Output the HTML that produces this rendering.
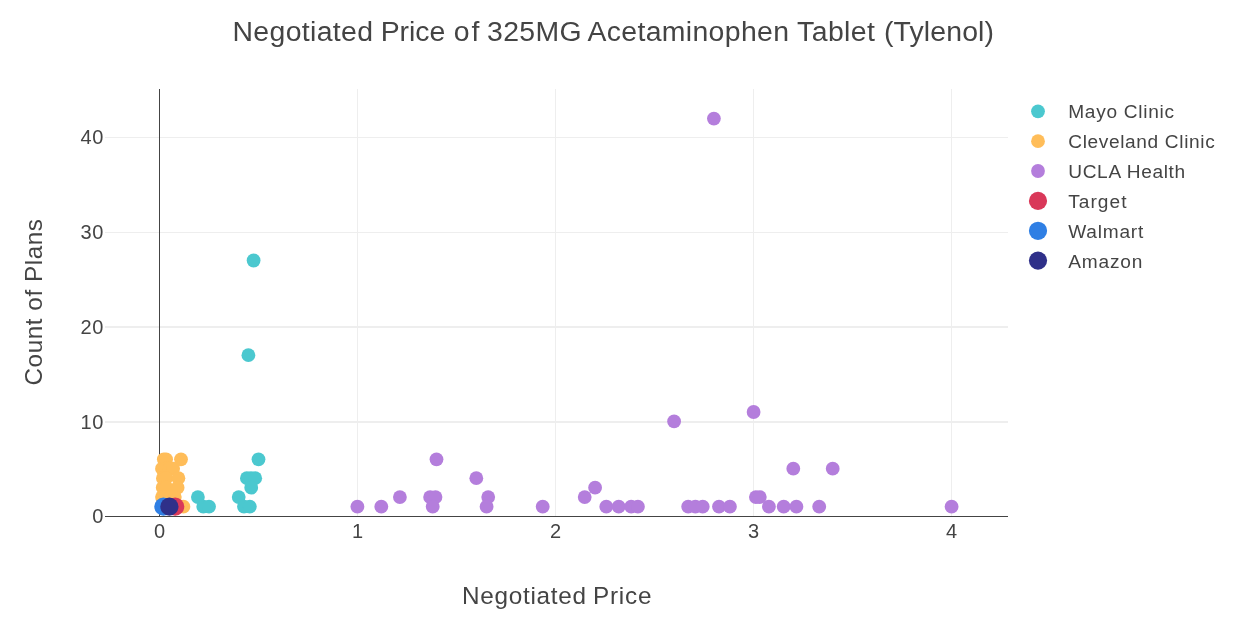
<!DOCTYPE html>
<html><head><meta charset="utf-8"><title>Chart</title>
<style>html,body{margin:0;padding:0;background:#fff;}body{width:1233px;height:619px;overflow:hidden;font-family:"Liberation Sans",sans-serif;}</style>
</head><body>
<svg width="1233" height="619" viewBox="0 0 1233 619" style="display:block;will-change:transform">
<rect width="1233" height="619" fill="#fff"/>
<rect x="357.0" y="89" width="1" height="427" fill="#eeeeee"/>
<rect x="555.0" y="89" width="1" height="427" fill="#eeeeee"/>
<rect x="753.0" y="89" width="1" height="427" fill="#eeeeee"/>
<rect x="951.0" y="89" width="1" height="427" fill="#eeeeee"/>
<rect x="105" y="137" width="903" height="1" fill="#eeeeee"/>
<rect x="105" y="232" width="903" height="1" fill="#eeeeee"/>
<rect x="105" y="326" width="903" height="2" fill="#eeeeee"/>
<rect x="105" y="421" width="903" height="2" fill="#eeeeee"/>
<rect x="159" y="89" width="1" height="428" fill="#444"/>
<rect x="105" y="516" width="903" height="1" fill="#444"/>
<circle cx="258.5" cy="459.3" r="6.9" fill="#4BC8CF"/>
<circle cx="246.9" cy="478.2" r="6.9" fill="#4BC8CF"/>
<circle cx="251.0" cy="478.2" r="6.9" fill="#4BC8CF"/>
<circle cx="255.2" cy="478.2" r="6.9" fill="#4BC8CF"/>
<circle cx="251.2" cy="487.7" r="6.9" fill="#4BC8CF"/>
<circle cx="238.7" cy="497.1" r="6.9" fill="#4BC8CF"/>
<circle cx="244.0" cy="506.6" r="6.9" fill="#4BC8CF"/>
<circle cx="249.8" cy="506.6" r="6.9" fill="#4BC8CF"/>
<circle cx="197.9" cy="497.1" r="6.9" fill="#4BC8CF"/>
<circle cx="203.3" cy="506.6" r="6.9" fill="#4BC8CF"/>
<circle cx="209.0" cy="506.6" r="6.9" fill="#4BC8CF"/>
<circle cx="248.4" cy="355.2" r="6.9" fill="#4BC8CF"/>
<circle cx="253.6" cy="260.5" r="6.9" fill="#4BC8CF"/>
<circle cx="163.8" cy="459.3" r="6.9" fill="#FFBD59"/>
<circle cx="166.1" cy="459.3" r="6.9" fill="#FFBD59"/>
<circle cx="181.0" cy="459.3" r="6.9" fill="#FFBD59"/>
<circle cx="162.0" cy="468.7" r="6.9" fill="#FFBD59"/>
<circle cx="165.5" cy="468.7" r="6.9" fill="#FFBD59"/>
<circle cx="169.5" cy="468.7" r="6.9" fill="#FFBD59"/>
<circle cx="173.1" cy="468.7" r="6.9" fill="#FFBD59"/>
<circle cx="162.9" cy="478.2" r="6.9" fill="#FFBD59"/>
<circle cx="166.0" cy="478.2" r="6.9" fill="#FFBD59"/>
<circle cx="178.4" cy="478.2" r="6.9" fill="#FFBD59"/>
<circle cx="162.7" cy="487.7" r="6.9" fill="#FFBD59"/>
<circle cx="166.5" cy="487.7" r="6.9" fill="#FFBD59"/>
<circle cx="177.6" cy="487.7" r="6.9" fill="#FFBD59"/>
<circle cx="162.0" cy="497.1" r="6.9" fill="#FFBD59"/>
<circle cx="166.0" cy="497.1" r="6.9" fill="#FFBD59"/>
<circle cx="170.5" cy="497.1" r="6.9" fill="#FFBD59"/>
<circle cx="174.8" cy="497.1" r="6.9" fill="#FFBD59"/>
<circle cx="162.0" cy="506.6" r="6.9" fill="#FFBD59"/>
<circle cx="170.0" cy="506.6" r="6.9" fill="#FFBD59"/>
<circle cx="183.4" cy="506.6" r="6.9" fill="#FFBD59"/>
<circle cx="357.4" cy="506.6" r="6.9" fill="#B47EDC"/>
<circle cx="381.3" cy="506.6" r="6.9" fill="#B47EDC"/>
<circle cx="399.9" cy="497.1" r="6.9" fill="#B47EDC"/>
<circle cx="436.5" cy="459.3" r="6.9" fill="#B47EDC"/>
<circle cx="430.1" cy="497.1" r="6.9" fill="#B47EDC"/>
<circle cx="435.5" cy="497.1" r="6.9" fill="#B47EDC"/>
<circle cx="432.7" cy="506.6" r="6.9" fill="#B47EDC"/>
<circle cx="476.3" cy="478.2" r="6.9" fill="#B47EDC"/>
<circle cx="488.2" cy="497.1" r="6.9" fill="#B47EDC"/>
<circle cx="486.6" cy="506.6" r="6.9" fill="#B47EDC"/>
<circle cx="542.7" cy="506.6" r="6.9" fill="#B47EDC"/>
<circle cx="584.7" cy="497.1" r="6.9" fill="#B47EDC"/>
<circle cx="595.1" cy="487.7" r="6.9" fill="#B47EDC"/>
<circle cx="606.3" cy="506.6" r="6.9" fill="#B47EDC"/>
<circle cx="618.7" cy="506.6" r="6.9" fill="#B47EDC"/>
<circle cx="631.2" cy="506.6" r="6.9" fill="#B47EDC"/>
<circle cx="637.9" cy="506.6" r="6.9" fill="#B47EDC"/>
<circle cx="674.1" cy="421.4" r="6.9" fill="#B47EDC"/>
<circle cx="753.6" cy="412.0" r="6.9" fill="#B47EDC"/>
<circle cx="793.3" cy="468.7" r="6.9" fill="#B47EDC"/>
<circle cx="832.7" cy="468.7" r="6.9" fill="#B47EDC"/>
<circle cx="688.2" cy="506.6" r="6.9" fill="#B47EDC"/>
<circle cx="695.4" cy="506.6" r="6.9" fill="#B47EDC"/>
<circle cx="702.7" cy="506.6" r="6.9" fill="#B47EDC"/>
<circle cx="719.0" cy="506.6" r="6.9" fill="#B47EDC"/>
<circle cx="729.9" cy="506.6" r="6.9" fill="#B47EDC"/>
<circle cx="768.9" cy="506.6" r="6.9" fill="#B47EDC"/>
<circle cx="783.7" cy="506.6" r="6.9" fill="#B47EDC"/>
<circle cx="796.4" cy="506.6" r="6.9" fill="#B47EDC"/>
<circle cx="819.2" cy="506.6" r="6.9" fill="#B47EDC"/>
<circle cx="951.6" cy="506.6" r="6.9" fill="#B47EDC"/>
<circle cx="755.9" cy="497.1" r="6.9" fill="#B47EDC"/>
<circle cx="759.8" cy="497.1" r="6.9" fill="#B47EDC"/>
<circle cx="713.9" cy="118.6" r="6.9" fill="#B47EDC"/>
<circle cx="175.2" cy="506.6" r="9.1" fill="#D93859"/>
<circle cx="163.4" cy="506.6" r="9.1" fill="#2F7FE4"/>
<circle cx="169.4" cy="506.6" r="9.1" fill="#2F3089"/>
<g font-family="'Liberation Sans', sans-serif" fill="#444444">
<text x="232.5" y="41.2" font-size="28.4" text-anchor="start" textLength="140.5" lengthAdjust="spacing">Negotiated</text>
<text x="380.7" y="41.2" font-size="28.4" text-anchor="start" textLength="64.6" lengthAdjust="spacing">Price</text>
<text x="453.8" y="41.2" font-size="28.4" text-anchor="start" textLength="25.6" lengthAdjust="spacing">of</text>
<text x="487.1" y="41.2" font-size="28.4" text-anchor="start" textLength="94.4" lengthAdjust="spacing">325MG</text>
<text x="587.4" y="41.2" font-size="28.4" text-anchor="start" textLength="201.6" lengthAdjust="spacing">Acetaminophen</text>
<text x="797.0" y="41.2" font-size="28.4" text-anchor="start" textLength="78.0" lengthAdjust="spacing">Tablet</text>
<text x="884.0" y="41.2" font-size="28.4" text-anchor="start" textLength="110.0" lengthAdjust="spacing">(Tylenol)</text>
<text x="462.0" y="604" font-size="24.3" text-anchor="start" textLength="124.1" lengthAdjust="spacing">Negotiated</text>
<text x="593.0" y="604" font-size="24.3" text-anchor="start" textLength="58.4" lengthAdjust="spacing">Price</text>
<text transform="translate(41.8,385.5) rotate(-90)" font-size="24.3" textLength="166.5" lengthAdjust="spacing">Count of Plans</text>
<text x="103.4" y="523.1" font-size="20" text-anchor="end" textLength="11.8" lengthAdjust="spacing">0</text>
<text x="103.4" y="428.6" font-size="20" text-anchor="end" textLength="22.9" lengthAdjust="spacing">10</text>
<text x="103.4" y="333.6" font-size="20" text-anchor="end" textLength="22.9" lengthAdjust="spacing">20</text>
<text x="103.4" y="239.2" font-size="20" text-anchor="end" textLength="22.9" lengthAdjust="spacing">30</text>
<text x="103.4" y="144.2" font-size="20" text-anchor="end" textLength="22.9" lengthAdjust="spacing">40</text>
<text x="159.5" y="538.0" font-size="20" text-anchor="middle">0</text>
<text x="357.5" y="538.0" font-size="20" text-anchor="middle">1</text>
<text x="555.5" y="538.0" font-size="20" text-anchor="middle">2</text>
<text x="753.5" y="538.0" font-size="20" text-anchor="middle">3</text>
<text x="951.5" y="538.0" font-size="20" text-anchor="middle">4</text>
<circle cx="1038" cy="111.3" r="6.9" fill="#4BC8CF"/>
<text x="1068.2" y="118.2" font-size="19.1" text-anchor="start" textLength="105.8" lengthAdjust="spacing">Mayo Clinic</text>
<circle cx="1038" cy="141.2" r="6.9" fill="#FFBD59"/>
<text x="1068.2" y="148.1" font-size="19.1" text-anchor="start" textLength="146.5" lengthAdjust="spacing">Cleveland Clinic</text>
<circle cx="1038" cy="171.0" r="6.9" fill="#B47EDC"/>
<text x="1068.2" y="177.9" font-size="19.1" text-anchor="start" textLength="117.0" lengthAdjust="spacing">UCLA Health</text>
<circle cx="1038" cy="200.9" r="9.1" fill="#D93859"/>
<text x="1068.2" y="207.8" font-size="19.1" text-anchor="start" textLength="58.3" lengthAdjust="spacing">Target</text>
<circle cx="1038" cy="230.8" r="9.1" fill="#2F7FE4"/>
<text x="1068.2" y="237.7" font-size="19.1" text-anchor="start" textLength="75.1" lengthAdjust="spacing">Walmart</text>
<circle cx="1038" cy="260.6" r="9.1" fill="#2F3089"/>
<text x="1068.2" y="267.5" font-size="19.1" text-anchor="start" textLength="74.2" lengthAdjust="spacing">Amazon</text>
</g></svg>
</body></html>
